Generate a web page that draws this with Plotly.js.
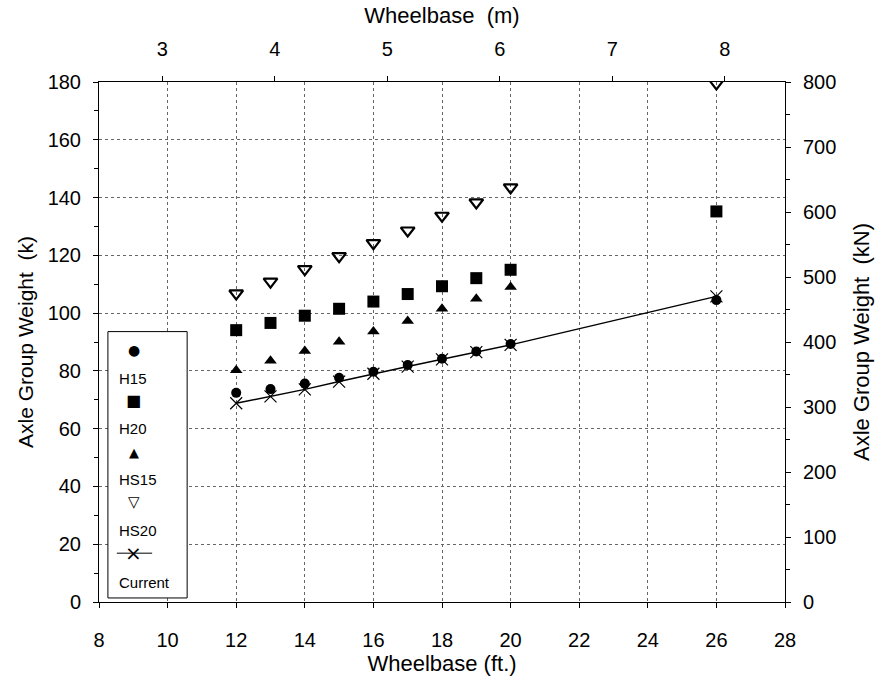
<!DOCTYPE html>
<html>
<head>
<meta charset="utf-8">
<script src="https://cdn.plot.ly/plotly-3.0.1.min.js"></script>
<style>html,body{margin:0;padding:0;background:#fff;}#chart{width:877px;height:683px;}</style>
</head>
<body>
<div id="chart"></div>
<script>
// Wheelbase (ft.)
const wheelbaseFt = [12, 13, 14, 15, 16, 17, 18, 19, 20, 26];
const wheelbaseFtHS15 = [12, 13, 14, 15, 16, 17, 18, 19, 20];
// Axle group weight (k)
const h15 = [72.4, 73.7, 75.6, 77.6, 79.7, 82.0, 84.2, 86.7, 89.3, 104.5];
const h20 = [94.1, 96.6, 99.1, 101.5, 104.0, 106.6, 109.3, 112.1, 115.0, 135.2];
const hs15 = [80.2, 83.5, 86.9, 90.1, 93.6, 97.3, 101.5, 105.0, 109.0];
const hs20 = [106.8, 110.9, 115.2, 119.7, 124.2, 128.6, 133.7, 138.3, 143.5, 179.5];
const current = [68.8, 71.2, 73.6, 76.3, 79.0, 81.5, 84.0, 86.5, 89.0, 105.8];
// Tick labels
const meterTicks = [3, 4, 5, 6, 7, 8];
const kNTicks = [0, 100, 200, 300, 400, 500, 600, 700, 800];
const legendNames = ['H15', 'H20', 'HS15', 'HS20', 'Current'];

const FT_PER_M = 3.2808;
const KN_PER_K = 4.448;
const xRange = [8, 28];
const yRange = [0, 180];
const FONT = 'Liberation Sans, Arial, sans-serif';

const traces = [
  {x: wheelbaseFt, y: current, name: 'Current', mode: 'lines+markers',
   line: {color: '#000', width: 1.5},
   marker: {symbol: 'x-thin-open', size: 12, color: '#000', line: {width: 1.2, color: '#000'}}},
  {x: wheelbaseFt, y: h15, name: 'H15', mode: 'markers',
   marker: {symbol: 'circle', size: 10, color: '#000'}},
  {x: wheelbaseFt, y: h20, name: 'H20', mode: 'markers',
   marker: {symbol: 'square', size: 12, color: '#000'}},
  {x: wheelbaseFtHS15, y: hs15, name: 'HS15', mode: 'markers',
   marker: {symbol: 'triangle-up', size: 11, color: '#000'}},
  {x: wheelbaseFt, y: hs20, name: 'HS20', mode: 'markers',
   marker: {symbol: 'triangle-down-open', size: 12, color: '#000', line: {width: 2.2, color: '#000'}}},
  // same HS20 series expressed in metres / kN, to carry the secondary (top and right) axes
  {x: wheelbaseFt.map(v => v / FT_PER_M), y: hs20.map(v => v * KN_PER_K), xaxis: 'x2', yaxis: 'y2',
   name: 'HS20 (SI)', mode: 'markers', marker: {size: 1, opacity: 0}, hoverinfo: 'skip'}
];

// legend (custom: symbol above label)
const legSym = ['\u25CF', '\u25A0', '\u25B2', '\u25BD', '\u00D7'];
const legSymY = [87.1, 69.8, 51.8, 34.6, 16.9];
const legTxtY = [77.4, 60.1, 42.5, 24.9, 6.6];
const legSymSize = [14, 16, 13, 15, 20];
const annotations = [];
legendNames.forEach((n, i) => {
  annotations.push({x: 9.02, y: legSymY[i], xref: 'x', yref: 'y', text: (i === 3 ? '<b>' + legSym[i] + '</b>' : legSym[i]), showarrow: false,
    font: {family: 'DejaVu Sans', size: legSymSize[i], color: '#000'}, xanchor: 'center', yanchor: 'middle'});
  annotations.push({x: 8.52, y: legTxtY[i], xref: 'x', yref: 'y', text: n, showarrow: false,
    font: {family: FONT, size: 15, color: '#000'}, xanchor: 'left', yanchor: 'middle'});
});

const shapes = [
  {type: 'rect', xref: 'x', yref: 'y', x0: 8.26, x1: 10.57, y0: 1.4, y1: 93.6,
   line: {color: '#000', width: 1}, fillcolor: '#fff', layer: 'above'},
  {type: 'line', xref: 'x', yref: 'y', x0: 8.52, x1: 9.55, y0: 16.9, y1: 16.9,
   line: {color: '#000', width: 1}, layer: 'above'}
];

const axisCommon = {
  showline: true, linecolor: '#000', linewidth: 1, mirror: false, zeroline: false,
  ticks: 'outside', tickcolor: '#000', ticklen: 5, tickwidth: 1,
  tickfont: {family: FONT, size: 20, color: '#000'}
};

const layout = {
  width: 877, height: 683,
  margin: {l: 99, r: 92, t: 82, b: 81},
  paper_bgcolor: '#fff', plot_bgcolor: '#fff',
  showlegend: false,
  font: {family: FONT, color: '#000'},
  xaxis: Object.assign({}, axisCommon, {
    range: xRange, dtick: 2, tick0: 8,
    showgrid: true, gridcolor: '#666', griddash: 'dot', gridwidth: 1,
    ticklabelstandoff: 15,
    title: {text: 'Wheelbase (ft.)', font: {family: FONT, size: 22, color: '#000'}, standoff: 2}
  }),
  xaxis2: Object.assign({}, axisCommon, {
    overlaying: 'x', side: 'top', anchor: 'y',
    range: [xRange[0] / FT_PER_M, xRange[1] / FT_PER_M],
    tickmode: 'array', tickvals: meterTicks, ticktext: meterTicks.map(String),
    showgrid: false, ticklabelstandoff: 12,
    title: {text: 'Wheelbase  (m)', font: {family: FONT, size: 22, color: '#000'}, standoff: 8}
  }),
  yaxis: Object.assign({}, axisCommon, {
    range: yRange, dtick: 20, tick0: 0,
    showgrid: true, gridcolor: '#666', griddash: 'dot', gridwidth: 1,
    ticklabelstandoff: 8,
    minor: {dtick: 10, ticks: 'outside', ticklen: 4, tickcolor: '#000', showgrid: false},
    title: {text: 'Axle Group Weight  (k)', font: {family: FONT, size: 21, color: '#000'}, standoff: 8}
  }),
  yaxis2: Object.assign({}, axisCommon, {
    overlaying: 'y', side: 'right', anchor: 'x',
    range: [yRange[0] * KN_PER_K, yRange[1] * KN_PER_K],
    tickmode: 'array', tickvals: kNTicks, ticktext: kNTicks.map(String),
    showgrid: false, ticklabelstandoff: 8,
    minor: {dtick: 50, ticks: 'outside', ticklen: 4, tickcolor: '#000', showgrid: false},
    title: {text: 'Axle Group Weight  (kN)', font: {family: FONT, size: 22, color: '#000'}, standoff: 18}
  }),
  annotations: annotations,
  shapes: shapes
};

Plotly.newPlot('chart', traces, layout, {staticPlot: true, displayModeBar: false});
</script>
</body>
</html>
